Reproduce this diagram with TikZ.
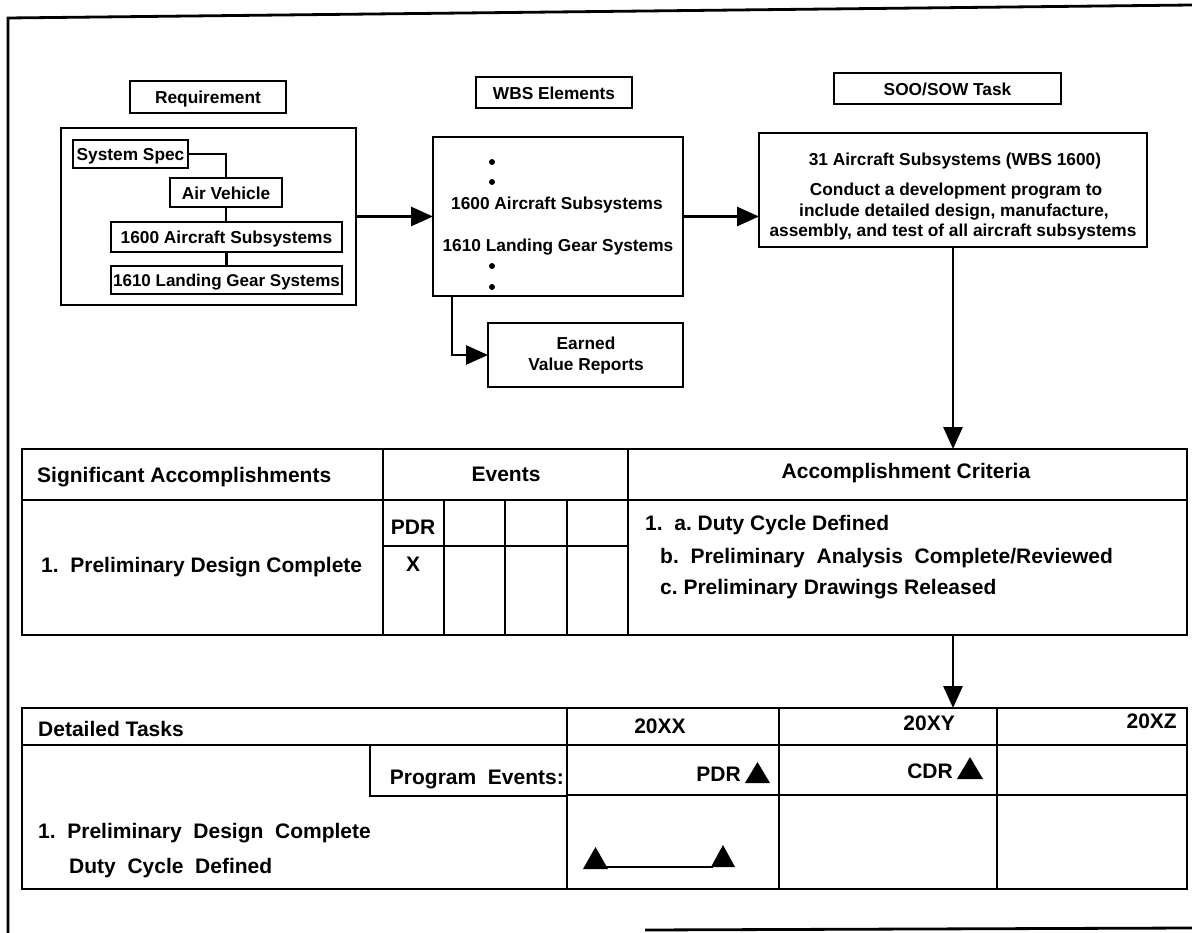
\documentclass[tikz,border=0pt]{standalone}
\usepackage{fontspec}
\setmainfont{Liberation Sans}
\usetikzlibrary{arrows.meta}
\begin{document}
\begin{tikzpicture}[x=1pt,y=-1pt,
  bx/.style={draw, line width=2.8pt, inner sep=0pt, outer sep=0pt, anchor=north west},
  tA/.style={font=\bfseries\fontsize{17.3}{21}\selectfont, inner sep=0pt, anchor=mid, yshift=-4pt},
  tB/.style={font=\bfseries\fontsize{21}{25}\selectfont, inner sep=0pt, yshift=-4pt},
  ln/.style={line width=2.8pt},
  arr/.style={line width=2.8pt, -{Triangle[length=22pt,width=19pt]}}]
\useasboundingbox (0,0) rectangle (1192,933);
% outer frame
\draw[ln] (1192,5) -- (8,18) -- (8,933);
\draw[ln] (645,930) -- (1192,928);
% ---- top section boxes
\node[bx, minimum width=156pt, minimum height=32pt] (reqlab) at (130,81) {};
\node[tA] (reqlabt) at (reqlab.center) {Requirement};
\node[bx, minimum width=295pt, minimum height=177pt] (reqbig) at (61,128) {};
\node[bx, minimum width=115pt, minimum height=28pt] (sysspec) at (73,140) {};
\node[tA] (sysspect) at (sysspec.center) {System Spec};
\node[bx, minimum width=112pt, minimum height=29pt] (airveh) at (170,178) {};
\node[tA] (airveht) at (airveh.center) {Air Vehicle};
\node[bx, minimum width=231pt, minimum height=30pt] (ra) at (111,222) {};
\node[tA] (rat) at (ra.center) {1600 Aircraft Subsystems};
\node[bx, minimum width=231pt, minimum height=28pt] (rb) at (111,266) {};
\node[tA, font=\bfseries\fontsize{17}{21}\selectfont] (rbt) at (rb.center) {1610 Landing Gear Systems};
\draw[ln] (sysspec.east) -| (airveh.north);
\draw[ln] (airveh.south) -- (airveh.south |- ra.north);
\draw[ln] (ra.south) -- (ra.south |- rb.north);

\node[bx, minimum width=156pt, minimum height=31pt] (wbslab) at (476,77) {};
\node[tA] (wbslabt) at (wbslab.center) {WBS Elements};
\node[bx, minimum width=250pt, minimum height=159pt] (wbs) at (433,137) {};
\foreach \yy in {162,182,266,287}{\fill (492,\yy) circle (3pt);}
\node[tA] (wbsa) at (557,203) {1600 Aircraft Subsystems};
\node[tA] (wbsb) at (558,245) {1610 Landing Gear Systems};

\node[bx, minimum width=227pt, minimum height=31pt] (soolab) at (834,73) {};
\node[tA] (soolabt) at (soolab.center) {SOO/SOW Task};
\node[bx, minimum width=388pt, minimum height=114pt] (soo) at (759,133) {};
\node[tA] (sooa) at (955,159) {31 Aircraft Subsystems (WBS 1600)};
\node[tA] (soob) at (956,189) {Conduct a development program to};
\node[tA] (sooc) at (954,210) {include detailed design, manufacture,};
\node[tA] (sood) at (953,230) {assembly, and test of all aircraft subsystems};

\node[bx, minimum width=195pt, minimum height=64pt] (ev) at (488,323) {};
\node[tA] (eva) at (586,343) {Earned};
\node[tA] (evb) at (586,364) {Value Reports};

\draw[arr] (reqbig.east) -- (reqbig.east -| wbs.west);
\draw[arr] (wbs.east) -- (wbs.east -| soo.west);
\draw[arr] ([xshift=19pt]wbs.south west) |- (ev.west);

% ---- table 1
\node[bx, minimum width=1165pt, minimum height=186pt] (ta) at (22,449) {};
\draw[ln] (22,500) -- (1187,500);
\draw[ln] (383,449) -- (383,635);
\draw[ln] (628,449) -- (628,635);
\foreach \xx in {444,505,567}{\draw[ln] (\xx,500) -- (\xx,635);}
\draw[ln] (383,546) -- (628,546);
\node[tB, anchor=mid west] (sa) at (37,476) {Significant Accomplishments};
\node[tB, anchor=mid] (ev1) at (506,475) {Events};
\node[tB, anchor=mid] (ac) at (906,472) {Accomplishment Criteria};
\node[tB, anchor=mid] (pdr1) at (413,528) {PDR};
\node[tB, anchor=mid] (x1) at (413,565) {X};
\node[tB, anchor=mid west] (pd1) at (41,566) {1.\ \ Preliminary Design Complete};
\node[tB, anchor=mid west] (ca) at (645,524) {1.\ \ a.\ Duty Cycle Defined};
\node[tB, anchor=mid west] (cb) at (660,557) {b.\ \ Preliminary\ \ Analysis\ \ Complete/Reviewed};
\node[tB, anchor=mid west] (cc) at (660,588) {c.\ Preliminary Drawings Released};

\draw[arr] (soo.south) -- (soo.south |- ta.north);

% ---- table 2
\node[bx, minimum width=1165pt, minimum height=181pt] (tb) at (22,708) {};
\draw[ln] (22,745) -- (1187,745);
\foreach \xx in {567,779,997}{\draw[ln] (\xx,708) -- (\xx,889);}
\draw[ln] (370,745) -- (370,796) -- (567,796);
\draw[ln] (567,795) -- (1187,795);
\node[tB, anchor=mid west] (dt) at (38,730) {Detailed Tasks};
\node[tB, anchor=mid] (y1) at (660,727) {20XX};
\node[tB, anchor=mid east] (y2) at (955,724) {20XY};
\node[tB, anchor=mid east] (y3) at (1177,722) {20XZ};
\node[tB, anchor=mid east] (pe) at (564,778) {Program\ \ Events:};
\node[tB, anchor=mid east] (pdr2) at (741,775) {PDR};
\fill (745,783) -- (757.5,762) -- (770,783) -- cycle;
\node[tB, anchor=mid east] (cdr2) at (953,772) {CDR};
\fill (957,779) -- (970,757) -- (983,779) -- cycle;
\node[tB, anchor=mid west] (pd2) at (38,832) {1.\ \ Preliminary\ \ Design\ \ Complete};
\node[tB, anchor=mid west] (dc2) at (69,867) {Duty\ \ Cycle\ \ Defined};
\fill (583,869) -- (595.5,847) -- (608,869) -- cycle;
\fill (711,867) -- (723,845) -- (735,867) -- cycle;
\coordinate (g1) at (606,867);
\coordinate (g2) at (713,867);
\draw[line width=2pt] (g1) -- (g2);

\draw[arr] (soo.south |- ta.south) -- (soo.south |- tb.north);
\end{tikzpicture}
\end{document}
